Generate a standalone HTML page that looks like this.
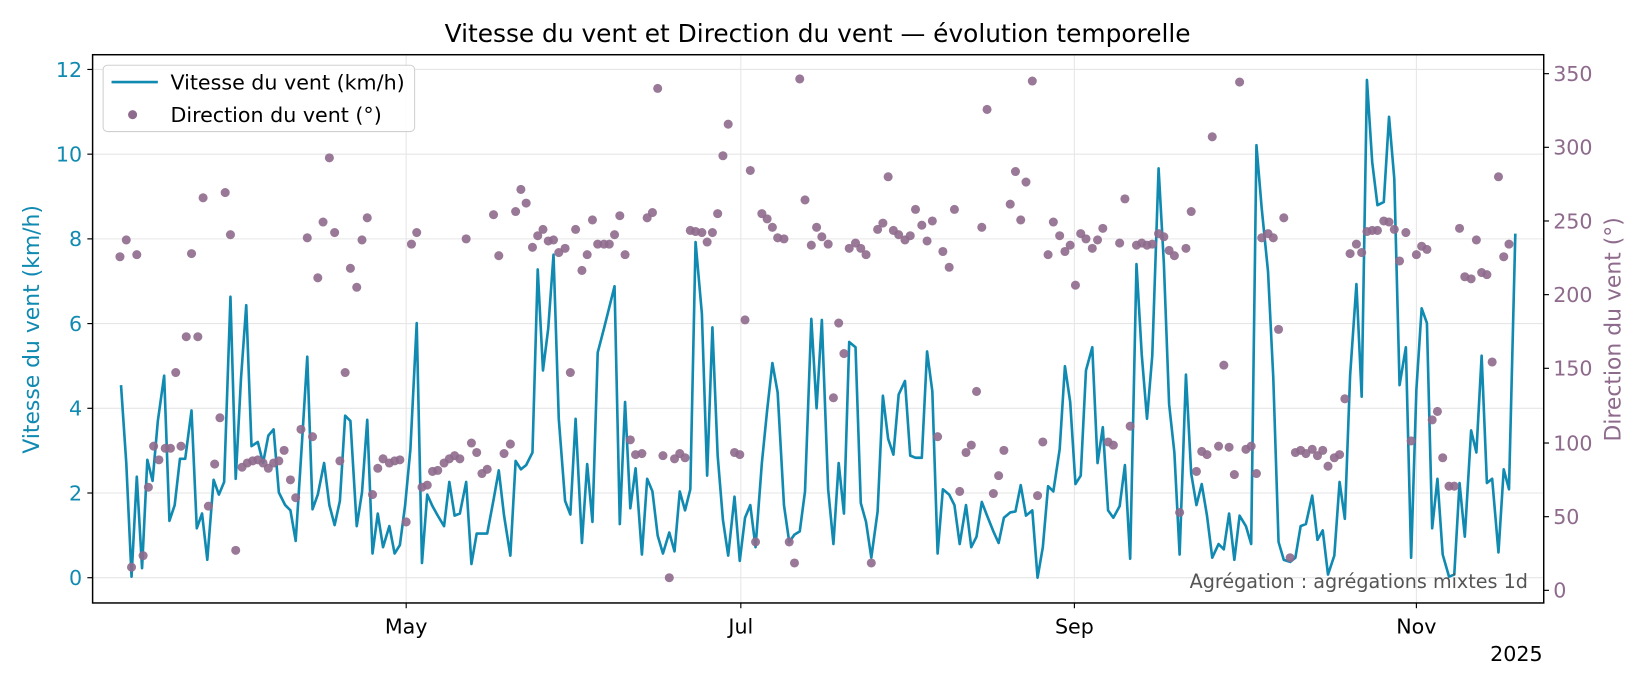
<!DOCTYPE html>
<html><head><meta charset="utf-8"><style>
body{margin:0;background:#fff;}
svg text{font-family:"DejaVu Sans","Liberation Sans",sans-serif;}
</style></head><body>
<svg id="s" width="1650" height="688" xmlns="http://www.w3.org/2000/svg">
<rect width="1650" height="688" fill="#fff"/>
<g transform="scale(1.0523)">
<g stroke="#e6e6e6" stroke-width="1">
<line x1="88" x2="1467" y1="549" y2="549"/><line x1="88" x2="1467" y1="468.5" y2="468.5"/>
<line x1="88" x2="1467" y1="388" y2="388"/><line x1="88" x2="1467" y1="307.5" y2="307.5"/>
<line x1="88" x2="1467" y1="227" y2="227"/><line x1="88" x2="1467" y1="146.5" y2="146.5"/>
<line x1="88" x2="1467" y1="66" y2="66"/>
<line x1="386" x2="386" y1="52" y2="573"/><line x1="704" x2="704" y1="52" y2="573"/>
<line x1="1021" x2="1021" y1="52" y2="573"/><line x1="1346" x2="1346" y1="52" y2="573"/>
</g>
<polyline id="ln" fill="none" stroke="#118ab2" stroke-width="2.5" stroke-linejoin="round"/>
<g id="pts" fill="#8e6a8c" fill-opacity="0.9"></g>
<rect x="88" y="52" width="1379" height="521" fill="none" stroke="#000" stroke-width="1.4"/>
<g stroke="#000" stroke-width="1.1">
<line x1="83" x2="88" y1="549" y2="549"/><line x1="83" x2="88" y1="468.5" y2="468.5"/><line x1="83" x2="88" y1="388" y2="388"/><line x1="83" x2="88" y1="307.5" y2="307.5"/><line x1="83" x2="88" y1="227" y2="227"/><line x1="83" x2="88" y1="146.5" y2="146.5"/><line x1="83" x2="88" y1="66" y2="66"/>
<line x1="1467" x2="1472" y1="561" y2="561"/><line x1="1467" x2="1472" y1="491" y2="491"/><line x1="1467" x2="1472" y1="421" y2="421"/><line x1="1467" x2="1472" y1="350" y2="350"/><line x1="1467" x2="1472" y1="280" y2="280"/><line x1="1467" x2="1472" y1="210" y2="210"/><line x1="1467" x2="1472" y1="140" y2="140"/><line x1="1467" x2="1472" y1="70" y2="70"/>
<line x1="386" x2="386" y1="573" y2="578"/><line x1="704" x2="704" y1="573" y2="578"/><line x1="1021" x2="1021" y1="573" y2="578"/><line x1="1346" x2="1346" y1="573" y2="578"/>
</g>
<g fill="#118ab2" font-size="19.6" text-anchor="end">
<text x="78" y="556">0</text><text x="78" y="475.5">2</text><text x="78" y="395">4</text><text x="78" y="314.5">6</text><text x="78" y="234">8</text><text x="78" y="153.5">10</text><text x="78" y="73">12</text>
</g>
<g fill="#8e6a8c" font-size="19.6">
<text x="1476" y="568">0</text><text x="1476" y="498">50</text><text x="1476" y="428">100</text><text x="1476" y="357">150</text><text x="1476" y="287">200</text><text x="1476" y="217">250</text><text x="1476" y="147">300</text><text x="1476" y="77">350</text>
</g>
<g font-size="19.6" text-anchor="middle" fill="#000">
<text x="386" y="602">May</text><text x="704" y="602">Jul</text><text x="1021" y="602">Sep</text><text x="1346" y="602">Nov</text>
<text x="1441" y="628">2025</text>
<text x="777" y="40" font-size="23.6">Vitesse du vent et Direction du vent — évolution temporelle</text>
</g>
<text x="37" y="313" font-size="20.8" fill="#118ab2" text-anchor="middle" transform="rotate(-90 37 313)">Vitesse du vent (km/h)</text>
<text x="1540" y="313" font-size="20.8" fill="#8e6a8c" text-anchor="middle" transform="rotate(-90 1540 313)">Direction du vent (°)</text>
<text x="1452" y="559" font-size="18.2" fill="#555" text-anchor="end">Agrégation : agrégations mixtes 1d</text>
<rect x="98" y="62" width="296" height="63" rx="4" fill="#fff" fill-opacity="0.85" stroke="#d0d0d0"/>
<line x1="106" x2="150" y1="78" y2="78" stroke="#118ab2" stroke-width="2.5"/>
<circle cx="126" cy="109" r="4.3" fill="#8e6a8c"/>
<text x="162" y="85" font-size="19.6">Vitesse du vent (km/h)</text>
<text x="162" y="116" font-size="19.6">Direction du vent (°)</text>
</g>
</svg>
<script>
var L="115,366 120,440 125,548 130,453 135,540 140,437 145,457 150,400 156,357 161,495 166,480 171,436 176,436 182,390 187,502 192,488 197,532 203,456 208,470 213,458 219,282 224,455 229,360 234,290 239,424 245,420 250,440 255,414 260,408 265,468 271,480 276,485 281,514 287,420 292,339 297,484 302,470 308,440 313,480 318,499 323,476 328,395 333,400 339,500 344,468 349,399 354,526 359,488 364,520 370,500 375,526 380,518 385,480 390,427 396,307 401,535 406,470 411,481 416,490 422,500 427,458 432,490 437,488 443,458 448,536 453,507 458,507 463,507 469,475 474,447 479,490 485,528 490,438 495,446 500,442 506,430 511,256 516,352 521,312 526,242 531,398 537,476 542,489 547,398 553,516 558,441 563,496 568,335 574,312 579,292 584,272 589,498 594,382 599,483 604,445 610,527 615,455 620,467 625,509 630,526 636,506 641,524 646,467 651,485 656,465 661,230 667,298 672,452 677,311 682,433 687,494 692,528 698,472 703,533 708,492 713,480 718,520 724,440 729,390 734,345 739,373 745,480 750,515 755,508 760,505 765,467 771,303 776,388 781,304 787,465 792,517 797,440 802,488 807,325 813,330 818,478 823,496 828,530 834,486 839,376 844,417 849,432 854,375 860,362 865,433 870,435 876,435 881,334 886,372 891,526 896,465 902,470 907,480 912,517 918,480 923,520 928,510 933,477 938,490 944,505 949,516 954,492 960,487 965,486 970,461 975,490 981,485 986,549 991,520 996,462 1001,467 1007,427 1012,348 1017,382 1022,460 1027,452 1032,352 1038,330 1043,440 1048,406 1053,485 1058,492 1064,481 1069,442 1074,531 1080,251 1085,337 1090,398 1095,338 1101,160 1106,250 1111,384 1116,430 1121,527 1127,356 1132,450 1137,480 1142,460 1147,490 1152,530 1158,517 1163,522 1168,488 1173,532 1178,490 1184,500 1189,517 1194,138 1199,198 1205,258 1210,359 1215,515 1220,532 1226,534 1231,530 1236,500 1241,498 1247,471 1252,513 1257,504 1262,546 1268,528 1273,458 1278,493 1283,357 1289,270 1294,377 1299,76 1304,154 1309,195 1315,192 1320,111 1325,170 1330,366 1336,330 1341,530 1346,370 1351,293 1356,307 1361,502 1366,455 1371,527 1377,548 1382,546 1387,459 1392,510 1398,409 1403,430 1408,338 1413,459 1418,455 1424,525 1429,446 1434,465 1440,222";
document.getElementById('ln').setAttribute('points',L);
var P="114,244 120,228 125,539 130,242 136,528 141,463 146,424 151,437 157,426 162,426 167,354 172,424 177,320 182,241 188,320 193,188 198,481 204,441 209,397 214,183 219,223 224,523 230,444 235,440 240,438 245,437 250,440 255,445 260,440 265,438 270,428 276,456 281,473 286,408 292,226 297,415 302,264 307,211 313,150 318,221 323,438 328,354 333,255 339,273 344,228 349,207 354,470 359,445 364,436 370,440 375,438 380,437 386,496 391,232 396,221 401,463 406,461 411,448 416,447 422,440 427,436 432,433 437,436 443,227 448,421 453,430 458,450 463,446 469,204 474,243 479,431 485,422 490,201 495,180 500,193 506,235 511,224 516,218 521,229 526,228 531,240 537,236 542,354 547,218 553,257 558,242 563,209 568,232 574,232 579,232 584,223 589,205 594,242 599,418 604,432 610,431 615,207 620,202 625,84 630,433 636,549 641,436 646,431 651,435 656,219 661,220 667,221 672,230 677,221 682,203 687,148 692,118 698,430 703,432 708,304 713,162 718,515 724,203 729,208 734,216 739,226 745,227 750,515 755,535 760,75 765,190 771,233 776,216 781,225 787,232 792,378 797,307 802,336 807,236 813,231 818,236 823,242 828,535 834,218 839,212 844,168 849,219 854,223 860,228 865,224 870,199 876,214 881,229 886,210 891,415 896,239 902,254 907,199 912,467 918,430 923,423 928,372 933,216 938,104 944,469 949,452 954,428 960,194 965,163 970,209 975,173 981,77 986,471 991,420 996,242 1001,211 1007,224 1012,239 1017,233 1022,271 1027,222 1032,227 1038,236 1043,228 1048,217 1053,420 1058,423 1064,231 1069,189 1074,405 1080,233 1085,231 1090,233 1095,232 1101,222 1106,225 1111,238 1116,243 1121,487 1127,236 1132,201 1137,448 1142,429 1147,432 1152,130 1158,424 1163,347 1168,425 1173,451 1178,78 1184,427 1189,424 1194,450 1199,226 1205,222 1210,226 1215,313 1220,207 1226,530 1231,430 1236,428 1241,431 1247,427 1252,433 1257,428 1262,443 1268,435 1273,432 1278,379 1283,241 1289,232 1294,240 1299,220 1304,219 1309,219 1315,210 1320,211 1325,218 1330,248 1336,221 1341,419 1346,242 1351,234 1356,237 1361,399 1366,391 1371,435 1377,462 1382,462 1387,217 1392,263 1398,265 1403,228 1408,259 1413,261 1418,344 1424,168 1429,244 1434,232".split(' ');
var g=document.getElementById('pts'),h='';
P.forEach(function(p){var a=p.split(',');h+='<circle cx="'+a[0]+'" cy="'+a[1]+'" r="4.3"/>';});
g.innerHTML=h;
</script>
</body></html>
